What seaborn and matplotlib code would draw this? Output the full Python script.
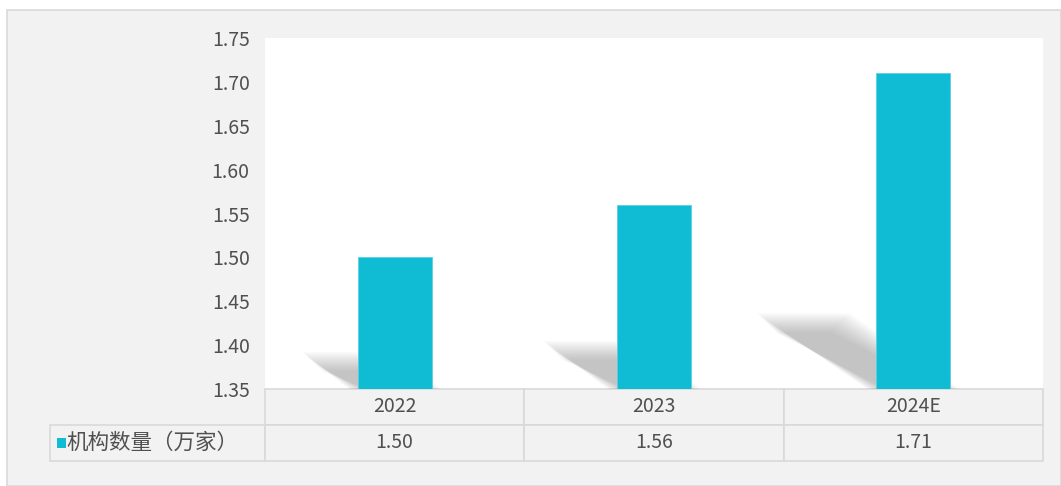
import matplotlib
matplotlib.use('Agg')
import matplotlib.pyplot as plt
import seaborn as sns
from matplotlib.patches import Polygon, Rectangle

# data
years = ['2022', '2023', '2024E']
counts = [1.50, 1.56, 1.71]
series_name = '机构数量（万家）'

bar_color = '#10BCD4'
text_color = '#505050'
grid_color = '#d9d9d9'
bg_color = '#f2f2f2'

sns.set_theme(style='white')
plt.rcParams['font.family'] = ['Noto Sans CJK SC', 'DejaVu Sans']

fig = plt.figure(figsize=(10.61, 4.86), dpi=100, facecolor='white')
W, H = 1061, 486

# grey chart frame (white strip at top and left like the screenshot)
fig.patches.append(Rectangle((7 / W, 0), 1 - 7 / W, 476 / H, transform=fig.transFigure,
                             facecolor=bg_color, edgecolor=grid_color, lw=1.2, zorder=-10))

ax = fig.add_axes([265 / W, 1 - 389 / H, 778 / W, 351 / H])
ax.set_facecolor('white')

ymin, ymax = 1.35, 1.75
bar_w = 0.285

sns.barplot(x=years, y=counts, color=bar_color, width=bar_w, saturation=1,
            edgecolor='#5ad0e2', linewidth=0.6, ax=ax, zorder=3)

# soft drop shadows falling to the upper left of each bar
n_layers = 12
for i, v in enumerate(counts):
    h = v - ymin
    dx = 1.18 * h
    dy = 0.21 * h
    x0, x1 = i - bar_w / 2, i + bar_w / 2
    for k in range(n_layers):
        s = -0.035 + 0.07 * k / (n_layers - 1)
        sy = s * 0.3
        pts = [(x0 + s, ymin), (x1 - s, ymin),
               (x1 - dx - s, ymin + dy - sy),
               (x0 - dx + s, ymin + dy - sy)]
        ax.add_patch(Polygon(pts, closed=True, facecolor='#7a7a7a', edgecolor='none',
                             alpha=0.042, zorder=1))

ax.set_ylim(ymin, ymax)
ax.set_xlim(-0.5, len(years) - 0.5)
ax.set_yticks([1.35, 1.40, 1.45, 1.50, 1.55, 1.60, 1.65, 1.70, 1.75])
ax.set_yticklabels([f'{t:.2f}' for t in ax.get_yticks()])
ax.tick_params(axis='y', length=0, pad=11, labelsize=14, labelcolor=text_color)
ax.set_xticks([])
ax.set_xlabel('')
ax.set_ylabel('')
for sp in ax.spines.values():
    sp.set_visible(False)

# data table under the plot
cell_text = [[''] + years, [series_name] + [f'{v:.2f}' for v in counts]]
col_px = [215, 259, 260, 259]
total = sum(col_px)
tbl = ax.table(cellText=cell_text, colWidths=[c / total for c in col_px],
               cellLoc='center',
               bbox=[(50 - 265) / 778, -72 / 351, total / 778, 72 / 351])
tbl.auto_set_font_size(False)
tbl.set_fontsize(14)
for (r, c), cell in tbl.get_celld().items():
    cell.set_facecolor(bg_color)
    cell.set_edgecolor(grid_color)
    cell.set_linewidth(1.2)
    cell.get_text().set_color(text_color)
tbl[0, 0].visible_edges = 'open'
lab = tbl[1, 0]
lab._loc = 'left'
lab.get_text().set_ha('left')
lab.get_text().set_fontsize(15.5)
lab.PAD = 16 / 215

# legend key square in the label cell
ax.add_patch(Rectangle(((57 - 265) / 778, (389 - 448) / 351), 9 / 778, 10 / 351,
                       transform=ax.transAxes, facecolor=bar_color, edgecolor='none',
                       clip_on=False, zorder=5))

fig.savefig('out.png', dpi=100, facecolor=fig.get_facecolor())
